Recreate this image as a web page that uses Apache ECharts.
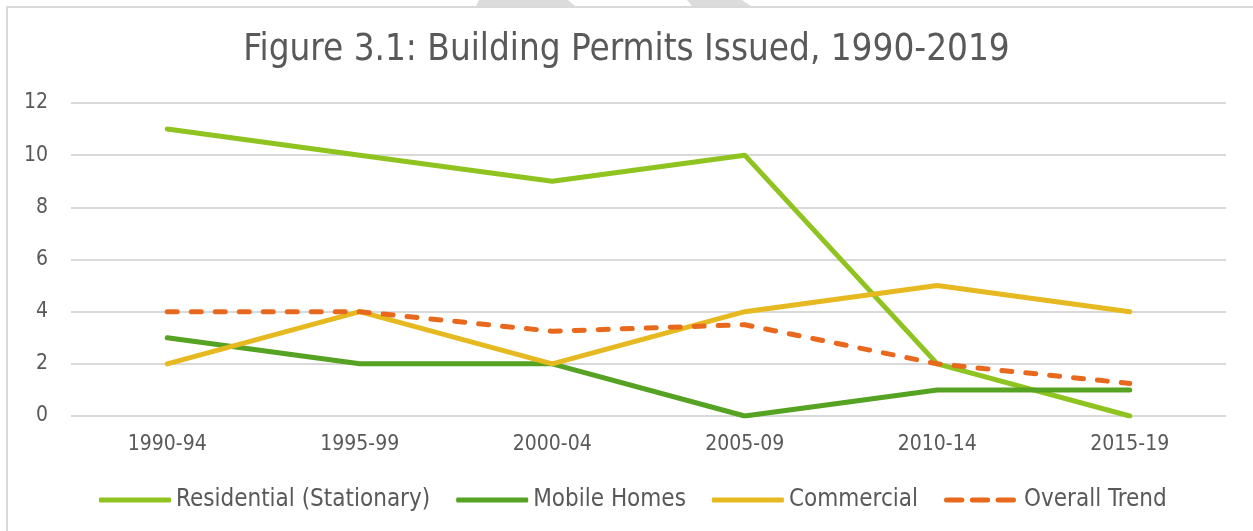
<!DOCTYPE html>
<html>
<head>
<meta charset="utf-8">
<script src="https://cdn.jsdelivr.net/npm/echarts@6/dist/echarts.min.js"></script>
<style>
html,body{margin:0;padding:0;background:#fff;}
#main{width:1253px;height:531px;}
</style>
</head>
<body>
<div id="main"></div>
<script>
const titleText = 'Figure 3.1: Building Permits Issued, 1990-2019';
const categories = ['1990-94', '1995-99', '2000-04', '2005-09', '2010-14', '2015-19'];
const residential = [11, 10, 9, 10, 2, 0];
const mobileHomes = [3, 2, 2, 0, 1, 1];
const commercial = [2, 4, 2, 4, 5, 4];
const overallTrend = [4, 4, 3.25, 3.5, 2, 1.25];
const seriesNames = ['Residential (Stationary)', 'Mobile Homes', 'Commercial', 'Overall Trend'];

const FONT = "'DejaVu Sans Condensed', 'Open Sans', sans-serif";
const TXT = '#595959';
const COLORS = ['#8fc31f', '#56a222', '#e6b921', '#e8691d'];

function dash(x) {
  return 'M' + (x + 2.5) + ',0h14a2.5,2.5 0 0 1 0,5h-14a2.5,2.5 0 0 1 0,-5z';
}
const dashIcon = 'path://' + dash(0) + dash(24) + dash(48);

const chart = echarts.init(document.getElementById('main'));

function mk(name, data, color, dashed) {
  return {
    name: name,
    type: 'line',
    data: data,
    symbol: 'none',
    smooth: false,
    lineStyle: {
      color: color,
      width: 5,
      cap: 'round',
      join: 'round',
      type: dashed ? [10, 14] : 'solid'
    },
    itemStyle: { color: color },
    emphasis: { disabled: true }
  };
}

chart.setOption({
  backgroundColor: '#fff',
  animation: false,
  title: {
    text: titleText,
    left: 'center',
    top: 27,
    textStyle: { fontFamily: FONT, fontSize: 36.5, fontWeight: 'normal', color: TXT }
  },
  graphic: [
    { type: 'polygon', shape: { points: [[479,0],[568,0],[575,6],[476,6]] }, style: { fill: '#dcdcdc' }, silent: true },
    { type: 'polygon', shape: { points: [[687,0],[742,0],[751,6],[692,6]] }, style: { fill: '#dcdcdc' }, silent: true },
    { type: 'rect', shape: { x: 7, y: 7, width: 1300, height: 600 }, style: { fill: 'none', stroke: '#d9d9d9', lineWidth: 2 }, silent: true }
  ],
  legend: {
    top: 483,
    left: 94,
    itemWidth: 72,
    itemHeight: 5,
    itemGap: 26,
    symbolKeepAspect: false,
    textStyle: { fontFamily: FONT, fontSize: 24, color: TXT },
    data: [
      { name: seriesNames[0], icon: 'roundRect', itemStyle: { color: COLORS[0] } },
      { name: seriesNames[1], icon: 'roundRect', itemStyle: { color: COLORS[1] } },
      { name: seriesNames[2], icon: 'roundRect', itemStyle: { color: COLORS[2] } },
      { name: seriesNames[3], icon: dashIcon, itemStyle: { color: COLORS[3] }, textStyle: { padding: [0, 0, 0, 3] } }
    ]
  },
  grid: { left: 71, right: 27, top: 103, bottom: 115, containLabel: false },
  xAxis: {
    type: 'category',
    data: categories,
    boundaryGap: true,
    axisLine: { show: false },
    axisTick: { show: false },
    axisLabel: { fontFamily: FONT, fontSize: 21, color: TXT, margin: 18 }
  },
  yAxis: {
    type: 'value',
    min: 0,
    max: 12,
    interval: 2,
    axisLine: { show: false },
    axisTick: { show: false },
    splitLine: { lineStyle: { color: '#d9d9d9', width: 2 } },
    axisLabel: { fontFamily: FONT, fontSize: 21, color: TXT, margin: 23 }
  },
  series: [
    mk(seriesNames[0], residential, COLORS[0], false),
    mk(seriesNames[1], mobileHomes, COLORS[1], false),
    mk(seriesNames[2], commercial, COLORS[2], false),
    mk(seriesNames[3], overallTrend, COLORS[3], true)
  ]
});
</script>
</body>
</html>
